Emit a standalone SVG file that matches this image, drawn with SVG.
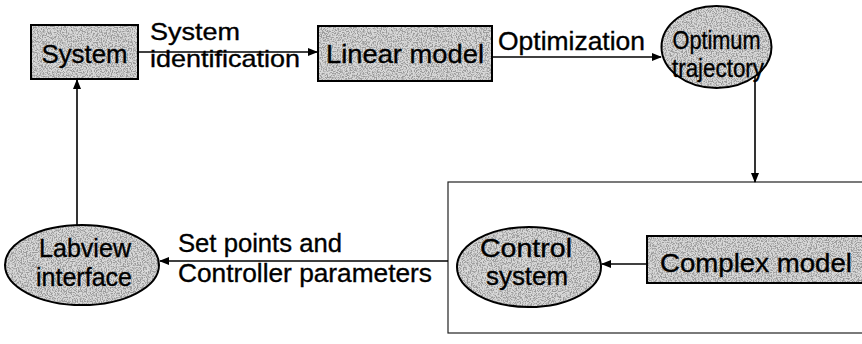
<svg xmlns="http://www.w3.org/2000/svg" width="862" height="344" viewBox="0 0 862 344">
<style>
  .base { fill: #d9d9d9; stroke: none; }
  .speck { fill: #000; filter: url(#speckle); }
  .outline { fill: none; stroke: #000; stroke-width: 2; }
  .frame { fill: none; stroke: #222; stroke-width: 1.2; }
  .edge { fill: none; stroke: #000; stroke-width: 1.6; }
  text { font-family: "Liberation Sans", Arial, sans-serif; font-size: 26px; fill: #000; stroke: #000; stroke-width: 0.35; }
  .in { font-size: 25px; }
  .lbl { font-size: 24px; }
</style>
<defs>
  <marker id="ah" markerWidth="10" markerHeight="8" refX="9" refY="4" orient="auto" markerUnits="userSpaceOnUse">
    <path d="M0,0 L10,4 L0,8 Z" fill="#000"/>
  </marker>
  <filter id="speckle" x="0" y="0" width="1" height="1">
    <feTurbulence type="fractalNoise" baseFrequency="0.8" numOctaves="2" seed="4" result="noise"/>
    <feColorMatrix in="noise" type="matrix" values="0 0 0 0 0.32  0 0 0 0 0.32  0 0 0 0 0.32  5 0 0 0 -2.2" result="dots"/>
    <feComposite in="dots" in2="SourceAlpha" operator="in"/>
  </filter>
</defs>
<rect width="862" height="344" fill="#fff"/>

<g id="control-frame">
  <rect class="frame" x="448" y="182" width="420" height="151"/>
</g>

<g id="system">
  <rect class="base" x="31" y="25" width="107" height="54"/>
  <rect class="speck" x="31" y="25" width="107" height="54"/>
  <rect class="outline" x="31" y="25" width="107" height="54"/>
  <text x="84.5" y="63" text-anchor="middle" textLength="86" lengthAdjust="spacingAndGlyphs">System</text>
</g>

<g id="linear-model">
  <rect class="base" x="318" y="26" width="174" height="55"/>
  <rect class="speck" x="318" y="26" width="174" height="55"/>
  <rect class="outline" x="318" y="26" width="174" height="55"/>
  <text x="405" y="63" text-anchor="middle" textLength="158" lengthAdjust="spacingAndGlyphs">Linear model</text>
</g>

<g id="optimum-trajectory">
  <ellipse class="base" cx="716.5" cy="47" rx="55" ry="41"/>
  <ellipse class="speck" cx="716.5" cy="47" rx="55" ry="41"/>
  <ellipse class="outline" cx="716.5" cy="47" rx="55" ry="41"/>
  <text class="in" x="716.5" y="49" text-anchor="middle" textLength="88" lengthAdjust="spacingAndGlyphs">Optimum</text>
  <text class="in" x="718" y="77" text-anchor="middle" textLength="92" lengthAdjust="spacingAndGlyphs">trajectory</text>
</g>

<g id="complex-model">
  <rect class="base" x="647" y="236" width="225" height="47"/>
  <rect class="speck" x="647" y="236" width="225" height="47"/>
  <rect class="outline" x="647" y="236" width="225" height="47"/>
  <text x="756" y="272" text-anchor="middle" textLength="192" lengthAdjust="spacingAndGlyphs">Complex model</text>
</g>

<g id="control-system">
  <ellipse class="base" cx="529" cy="267" rx="72" ry="40"/>
  <ellipse class="speck" cx="529" cy="267" rx="72" ry="40"/>
  <ellipse class="outline" cx="529" cy="267" rx="72" ry="40"/>
  <text class="in" x="526" y="257" text-anchor="middle" textLength="92" lengthAdjust="spacingAndGlyphs">Control</text>
  <text class="in" x="527" y="285" text-anchor="middle" textLength="82" lengthAdjust="spacingAndGlyphs">system</text>
</g>

<g id="labview-interface">
  <ellipse class="base" cx="82" cy="265" rx="77" ry="40"/>
  <ellipse class="speck" cx="82" cy="265" rx="77" ry="40"/>
  <ellipse class="outline" cx="82" cy="265" rx="77" ry="40"/>
  <text class="in" x="85" y="257" text-anchor="middle" textLength="92" lengthAdjust="spacingAndGlyphs">Labview</text>
  <text class="in" x="84" y="286" text-anchor="middle" textLength="96" lengthAdjust="spacingAndGlyphs">interface</text>
</g>

<g id="connectors">
  <line class="edge" x1="138" y1="52" x2="317" y2="52" marker-end="url(#ah)"/>
  <line class="edge" x1="492" y1="57" x2="661" y2="57" marker-end="url(#ah)"/>
  <line class="edge" x1="755" y1="76" x2="755" y2="182" marker-end="url(#ah)"/>
  <line class="edge" x1="647" y1="264" x2="602" y2="264" marker-end="url(#ah)"/>
  <line class="edge" x1="448" y1="261" x2="160" y2="261" marker-end="url(#ah)"/>
  <line class="edge" x1="77" y1="225" x2="77" y2="80" marker-end="url(#ah)"/>
</g>

<g id="labels">
  <text class="lbl" x="150" y="40" textLength="90" lengthAdjust="spacingAndGlyphs">System</text>
  <text class="lbl" x="150" y="67" textLength="150" lengthAdjust="spacingAndGlyphs">identification</text>
  <text x="498" y="50" textLength="147" lengthAdjust="spacingAndGlyphs">Optimization</text>
  <text x="178" y="252" textLength="164" lengthAdjust="spacingAndGlyphs">Set points and</text>
  <text x="178" y="282" textLength="254" lengthAdjust="spacingAndGlyphs">Controller parameters</text>
</g>
</svg>
